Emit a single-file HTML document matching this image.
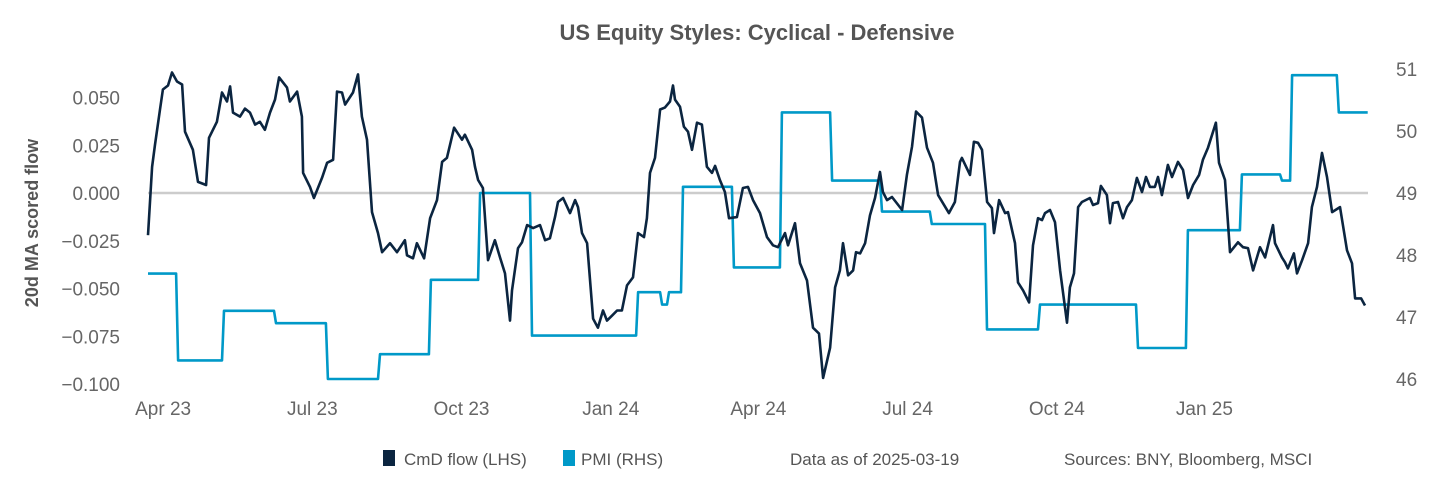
<!DOCTYPE html>
<html><head><meta charset="utf-8"><style>
body{margin:0;background:#fff;}
svg{display:block;font-family:"Liberation Sans",sans-serif;}
</style></head><body>
<svg width="1430" height="482" viewBox="0 0 1430 482">
<text x="757" y="40" text-anchor="middle" font-size="22" font-weight="bold" fill="#555">US Equity Styles:  Cyclical - Defensive</text>
<text transform="translate(38,223) rotate(-90)" text-anchor="middle" font-size="18" font-weight="bold" fill="#555">20d MA scored flow</text>
<g id="axes"></g>
<g id="series"></g>
<g>
<rect x="383" y="450" width="12" height="16" fill="#0b2540"/>
<text x="404" y="465" font-size="17" fill="#555">CmD flow (LHS)</text>
<rect x="563" y="450" width="12" height="16" fill="#0099c8"/>
<text x="581" y="465" font-size="17" fill="#555">PMI (RHS)</text>
<text x="790" y="465" font-size="17" fill="#555">Data as of 2025-03-19</text>
<text x="1064" y="465" font-size="17" fill="#555">Sources:  BNY, Bloomberg, MSCI</text>
</g>
</svg>
<script>
// day offsets from series origin (~2023-03-16)
const cmdDays=[0,2.5,4.3,7.4,9.2,12.3,14.8,17.9,21,22.8,27.7,30.8,35.8,37.6,42.5,45.6,48.7,50.6,52.4,56.7,59.8,62.9,66,69,72.1,75.2,78.3,80.8,85.7,87.5,91.9,94.9,95.6,99.9,102.3,107.3,110.4,114.1,116.5,119.6,121.5,126.4,129.5,131.9,135,138.1,141.8,144.3,149.2,153.5,158.4,159.7,163.4,165.8,170.2,173.9,178.2,181.3,184.3,186.2,188.7,193.6,195.4,199.8,201.6,203.5,206.5,209.6,213.9,217,220.1,223.2,224.4,228.1,230.6,233.7,237.4,241.7,244.8,247.8,250.9,252.8,255.9,260.2,263.3,265.1,267.6,270.7,274.4,277.4,280.5,283,286.1,289.2,292.2,295.3,299,302.1,305.8,307.6,309.5,312.6,315.7,318.7,321.8,323.7,324.9,328,330.4,332.9,335.4,338.5,341.5,344.6,347.7,349.6,352.6,355.7,358.2,363.1,366.8,369.9,373,377.3,381.6,385.3,388.4,392.7,394.6,398.9,402,406.3,410,413.7,416.2,420.5,423.6,426.6,428.5,431.6,434.7,436.5,439,442.1,445.1,448.2,451.3,453.1,455.6,458.7,464.9,467.9,471,473.5,477.2,480.3,484,487.1,490.1,493.8,497.5,500.6,501.8,506.8,509.2,511.7,514.2,517.3,520.3,521.6,524.7,528.4,530.2,534.5,536.4,539.5,543.2,545.6,548.7,551.2,553,556.1,559.2,562.3,566.6,568.4,570.9,573.4,575.8,580.7,582.6,585.7,587.5,591.2,593.1,594.9,598,601.1,603.6,606.6,609.7,612.8,615.3,617.7,620.8,622.7,625.1,628.8,631.3,635,638.1,641.2,644.3,648,650.4,653.5,658.4,660.3,664,667.1,672,675.1,678.2,681.3,685.6,688.7,693.6,694.8,699.1,701,702.8,706.5,708.4,711.5,715.2,717.6,720.7,723.8,726.9,730,734.9,739.2,742.3,744.2,747.9,750.3];
// values in thousandths
const cmdVals=[-22.1,13.7,25.3,43.7,54.2,56.3,63.1,58.4,56.8,32.1,22.6,5.8,4.2,28.9,37.3,52.6,47.9,55.8,42.1,40,44.2,42.1,35.8,37.3,33.1,42.1,48.9,60.5,55.2,47.9,53.1,40,10.5,3.2,-2.6,7.9,15.8,17.4,53.1,52.6,46.3,52.6,62.1,40,27.9,-10,-21,-31,-26.3,-31,-24.7,-32.6,-34.2,-26.3,-34.2,-13.2,-3.7,16.3,18.4,25.2,34.2,27.9,30.5,22.6,13.7,6.8,2.6,-35.2,-24.7,-33.7,-42.1,-66.8,-51,-28.9,-25.8,-16.8,-18.4,-16.8,-24.7,-23.7,-12.6,-4.7,-2.6,-10.5,-3.7,-7.4,-21,-26.3,-65.8,-70.5,-61.5,-66.8,-64.2,-61.5,-61.5,-48.4,-44.2,-21,-23.1,-13.2,10.5,18.4,43.7,44.7,47.9,56.3,48.9,45.2,34.7,32.1,22.6,36.8,35.8,13.7,10.5,14.2,6.8,0.5,-13.2,-12.6,2.6,3.2,-3.7,-10.5,-23.1,-27.4,-28.4,-21,-27.4,-15.8,-36.8,-45.8,-70.5,-73.6,-96.8,-81,-49.4,-40.5,-26.3,-43.1,-40.5,-31,-31.6,-26.3,-11.6,-2.6,11,0.5,-3.7,-2.1,-8.9,9.5,24.2,42.6,39.5,23.7,15.8,-1.1,-5.3,-10.5,-4.7,16.3,18.4,9.5,26.8,26.3,22.6,-4.7,-7.9,-21,-3.7,-10.5,-10,-26.3,-46.8,-51,-57.3,-27.4,-13.2,-14.2,-10.5,-8.9,-15.3,-40.5,-67.9,-49.4,-42.1,-7.4,-4.7,-2.6,-6.3,-5.3,3.7,-1.1,-15.8,-5.3,-4.7,-13.2,-7.4,-3.7,7.9,0.5,8.4,3.2,3.2,8.4,-1.1,14.7,8.4,16.3,12.1,-2.6,4.2,9.5,17.4,23.7,36.8,15.8,6.8,-31,-25.8,-28.4,-28.9,-40.5,-28.4,-33.7,-16.8,-26.3,-33.7,-36.3,-39.5,-31.6,-42.1,-35.2,-26.3,-7.4,3.2,21,8.4,-10,-7.4,-30,-36.8,-55.2,-55.2,-58.9];
// PMI steps: start day of each level
const pmiStart=[0,17.3,45.6,77.7,109.7,141.8,173.2,203.5,235.5,300.9,315.7,320,328.6,360,389.6,420.5,451.3,482,516,548.7,609.1,639.9,673.2,697.9,704.1,732.9];
const pmiVals=[47.7,46.3,47.1,46.9,46.0,46.4,47.6,49.0,46.7,47.4,47.2,47.4,49.1,47.8,50.3,49.2,48.7,48.5,46.8,47.2,46.5,48.4,49.3,49.2,50.9,50.3];
const pmiEnd=752;
const leftTicks=[0.05,0.025,0,-0.025,-0.05,-0.075,-0.1];
const leftTickLabels=["0.050","0.025","0.000","\u22120.025","\u22120.050","\u22120.075","\u22120.100"];
const rightTicks=[51,50,49,48,47,46];
const xTickDays=[13,105,197,289,380,472,564,655];
const xTickLabels=["Apr 23","Jul 23","Oct 23","Jan 24","Apr 24","Jul 24","Oct 24","Jan 25"];

const NS="http://www.w3.org/2000/svg";
const X=d=>148+d*1.622;
const YL=v=>193-v*1910;
const YR=v=>193-(v-49)*62;
const axes=document.getElementById('axes'), series=document.getElementById('series');
function mk(tag,attrs,parent){const e=document.createElementNS(NS,tag);for(const k in attrs)e.setAttribute(k,attrs[k]);parent.appendChild(e);return e;}

const zl=mk('line',{x1:148,x2:1368,y1:YL(0),y2:YL(0),stroke:'#cccccc','stroke-width':2.5},axes);


leftTicks.forEach((v,i)=>{
  const t=mk('text',{x:120,y:YL(v)+7,'text-anchor':'end','font-size':19,fill:'#666'},axes);
  t.textContent=leftTickLabels[i];
  
  
});
rightTicks.forEach(v=>{
  const t=mk('text',{x:1396,y:YR(v)+7,'font-size':19,fill:'#666'},axes);
  t.textContent=String(v);
  
  
});
xTickDays.forEach((d,i)=>{
  const t=mk('text',{x:X(d)-6,y:415,'text-anchor':'middle','font-size':19,fill:'#666'},axes);
  t.textContent=xTickLabels[i];
  
  
});

let pd='';
pmiVals.forEach((v,i)=>{
  const x0=X(pmiStart[i])+(i>0?2:0), x1=X(i<pmiVals.length-1?pmiStart[i+1]:pmiEnd);
  pd+=(i===0?'M':'L')+x0.toFixed(1)+','+YR(v).toFixed(1)+'L'+x1.toFixed(1)+','+YR(v).toFixed(1);
});
const pl=mk('path',{d:pd,fill:'none',stroke:'#0099c8','stroke-width':2.6,'stroke-linejoin':'round'},series);



let cd='';
cmdDays.forEach((d,i)=>{cd+=(i?'L':'M')+X(d).toFixed(1)+','+YL(cmdVals[i]/1000).toFixed(1);});
const cl=mk('path',{d:cd,fill:'none',stroke:'#0b2540','stroke-width':2.6,'stroke-linejoin':'round'},series);


</script>
</body></html>
